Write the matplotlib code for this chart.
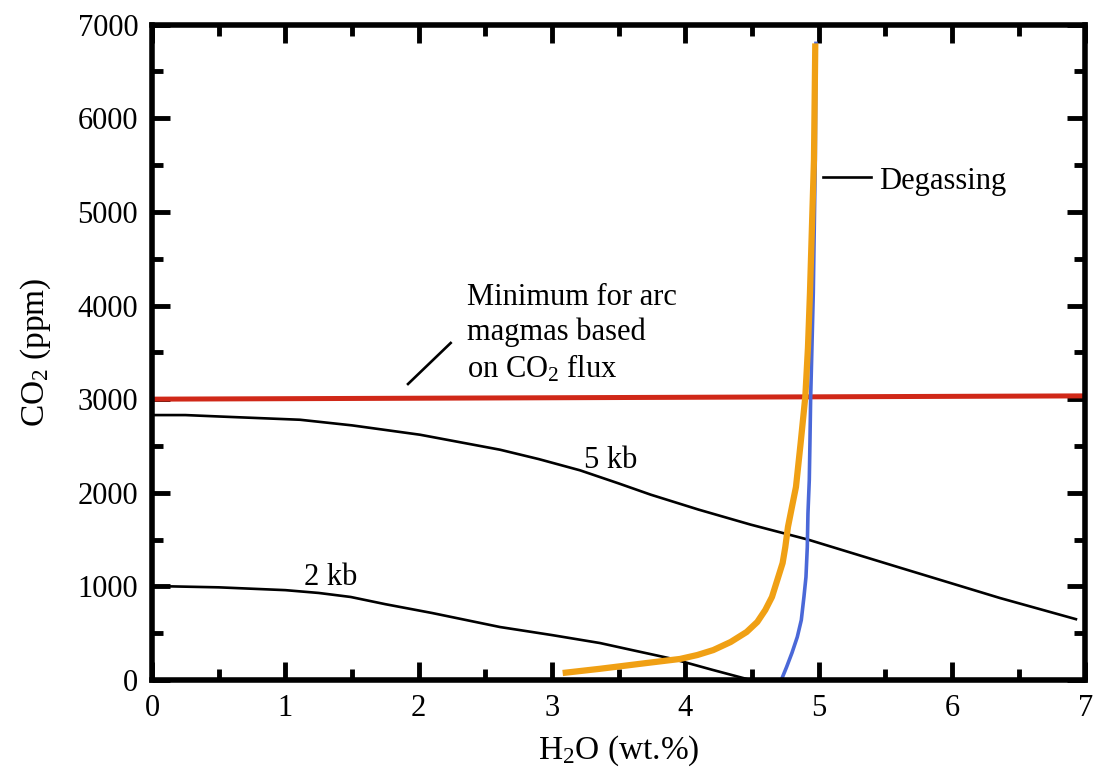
import matplotlib
matplotlib.use("Agg")
import matplotlib.pyplot as plt
from matplotlib.ticker import MultipleLocator

plt.rcParams['font.family'] = ['Liberation Serif', 'DejaVu Serif']
plt.rcParams['mathtext.fontset'] = 'custom'
plt.rcParams['mathtext.rm'] = 'Liberation Serif'
plt.rcParams['mathtext.it'] = 'Liberation Serif:italic'

# isobars (H2O wt.%, CO2 ppm)
kb2_x = [0.0, 0.15, 0.5, 1.0, 1.25, 1.49, 1.75, 2.1, 2.61, 3.0, 3.36, 3.6, 3.91, 4.2, 4.49]
kb2_y = [1000, 1000, 990, 960, 930, 887, 810, 716, 566, 480, 395, 320, 224, 110, 0]
kb5_x = [0.0, 0.25, 0.5, 1.11, 1.5, 2.01, 2.61, 2.9, 3.21, 3.5, 3.74, 4.1, 4.49, 4.92,
         5.61, 6.36, 6.93]
kb5_y = [2830, 2830, 2815, 2780, 2720, 2620, 2460, 2360, 2240, 2100, 1980, 1820, 1660,
         1500, 1200, 876, 650]

# minimum for arc magmas
min_x = [0.0, 7.0]
min_y = [3000, 3035]

# degassing paths
orange_x = [3.08, 3.36, 3.7, 3.96, 4.09, 4.21, 4.34, 4.46, 4.54, 4.60, 4.65, 4.69,
            4.73, 4.75, 4.77, 4.80, 4.83, 4.865, 4.90, 4.92, 4.935, 4.965, 4.975]
orange_y = [75, 120, 180, 225, 267, 320, 406, 513, 620, 748, 887, 1068,
            1250, 1420, 1635, 1850, 2062, 2530, 3023, 3550, 4135, 5556, 6800]
blue_x = [4.72, 4.76, 4.80, 4.84, 4.87, 4.89, 4.905, 4.915, 4.92, 4.93, 4.935, 4.94,
          4.96, 4.975, 4.98]
blue_y = [0, 140, 290, 460, 640, 890, 1100, 1420, 1780, 2137, 2550, 3000,
          4135, 5556, 6800]

fig = plt.figure(figsize=(10.94, 7.71), dpi=100)
ax = fig.add_axes([0.139, 0.118, 0.853, 0.850])

ax.plot(kb2_x, kb2_y, color='black', lw=1.9)
ax.plot(kb5_x, kb5_y, color='black', lw=1.9)
ax.plot(min_x, min_y, color='#d02818', lw=3.6)
ax.plot(blue_x, blue_y, color='#4a68d8', lw=2.6)
ax.plot(orange_x, orange_y, color='#f0a014', lw=4.5, solid_capstyle='butt')

ax.set_xlim(0, 7)
ax.set_ylim(0, 7000)
ax.xaxis.set_major_locator(MultipleLocator(1))
ax.xaxis.set_minor_locator(MultipleLocator(0.5))
ax.yaxis.set_major_locator(MultipleLocator(1000))
ax.yaxis.set_minor_locator(MultipleLocator(500))
ax.tick_params(which='both', direction='in', top=True, right=True, width=3.5,
               labelsize=22, pad=10)
ax.tick_params(which='major', length=13)
ax.tick_params(which='minor', length=8)
for s in ax.spines.values():
    s.set_linewidth(4)

ax.set_xlabel(r'H$_{\mathrm{2}}$O (wt.%)', fontsize=24, labelpad=8)
ax.set_ylabel(r'CO$_{\mathrm{2}}$ (ppm)', fontsize=24, labelpad=18)

ax.text(3.44, 2350, '5 kb', fontsize=22, ha='center', va='center')
ax.text(1.34, 1100, '2 kb', fontsize=22, ha='center', va='center')
ax.text(2.36, 3700, 'Minimum for arc\nmagmas based\non CO$_{\\mathrm{2}}$ flux',
        fontsize=22, ha='left', va='center', linespacing=1.25)
ax.plot([1.92, 2.24], [3162, 3600], color='black', lw=1.9)
ax.plot([5.03, 5.39], [5370, 5370], color='black', lw=1.9)
ax.text(5.45, 5320, 'Degassing', fontsize=22, ha='left', va='center')

fig.savefig('out.png', dpi=100)
